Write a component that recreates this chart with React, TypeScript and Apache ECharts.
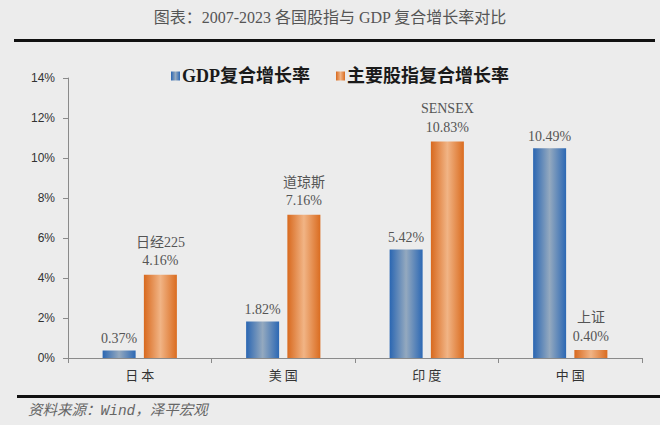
import React, { useEffect, useRef } from "react";
import * as echarts from "echarts";

const categories = ["日本", "美国", "印度", "中国"];
const gdpGrowth = [0.37, 1.82, 5.42, 10.49];
const indexGrowth = [4.16, 7.16, 10.83, 0.4];
const indexNames = ["日经225", "道琼斯", "SENSEX", "上证"];
const yTicks = [0, 2, 4, 6, 8, 10, 12, 14];

const blueGrad = () =>
  new echarts.graphic.LinearGradient(0, 0, 1, 0, [
    { offset: 0, color: "#2a66b2" },
    { offset: 0.5, color: "#94a9bf" },
    { offset: 1, color: "#2c68b4" },
  ]);
const orangeGrad = () =>
  new echarts.graphic.LinearGradient(0, 0, 1, 0, [
    { offset: 0, color: "#d8691e" },
    { offset: 0.5, color: "#f1b485" },
    { offset: 1, color: "#da6c20" },
  ]);

export default function App() {
  const ref = useRef<HTMLDivElement>(null);
  useEffect(() => {
    if (!ref.current) return;
    const chart = echarts.init(ref.current, null, { renderer: "svg" });
    const serif = "'Liberation Serif', 'Times New Roman', 'Noto Sans CJK SC', serif";
    chart.setOption({
      animation: false,
      backgroundColor: "#ececec",
      title: {
        text: "图表：2007-2023 各国股指与 GDP 复合增长率对比",
        left: "center",
        top: 4,
        textStyle: {
          fontFamily: "'Liberation Serif', 'Noto Sans CJK SC', serif",
          fontWeight: "normal",
          fontSize: 16,
          color: "#555555",
        },
      },
      legend: {
        top: 62,
        left: 166,
        itemWidth: 9,
        itemHeight: 9,
        itemGap: 26,
        icon: "rect",
        textStyle: {
          fontFamily: serif,
          fontWeight: "bold",
          fontSize: 18,
          color: "#1a1a1a",
          padding: [0, 0, 0, -3],
        },
        data: [
          { name: "GDP复合增长率", itemStyle: { color: blueGrad() } },
          { name: "主要股指复合增长率", itemStyle: { color: orangeGrad() } },
        ],
      },
      grid: { left: 68, right: 18, top: 78, bottom: 67, containLabel: false },
      xAxis: {
        type: "category",
        data: categories,
        axisLine: { lineStyle: { color: "#8a8a8a", width: 1 } },
        axisTick: { show: true, length: 5, inside: false, lineStyle: { color: "#8a8a8a" } },
        axisLabel: {
          fontFamily: "'Noto Sans CJK SC', sans-serif",
          fontSize: 13,
          color: "#333333",
          margin: 10,
          formatter: (v: string) => v.split("").join(" "),
        },
      },
      yAxis: {
        type: "value",
        min: 0,
        max: 14,
        interval: 2,
        splitLine: { show: false },
        axisLine: { show: true, lineStyle: { color: "#8a8a8a", width: 1 } },
        axisTick: { show: true, length: 5, lineStyle: { color: "#8a8a8a" } },
        axisLabel: {
          fontFamily: "'Liberation Sans', Arial, sans-serif",
          fontSize: 12,
          color: "#333333",
          margin: 13,
          formatter: (v: number) => (yTicks.includes(v) ? `${v}%` : ""),
        },
      },
      series: [
        {
          name: "GDP复合增长率",
          type: "bar",
          data: gdpGrowth,
          barWidth: "23%",
          barGap: "25%",
          itemStyle: { color: blueGrad() },
          label: {
            show: true,
            position: "top",
            distance: 5,
            fontFamily: serif,
            fontSize: 14,
            color: "#555555",
            formatter: (p: any) => `${p.value.toFixed(2)}%`,
          },
        },
        {
          name: "主要股指复合增长率",
          type: "bar",
          data: indexGrowth,
          barWidth: "23%",
          itemStyle: { color: orangeGrad() },
          label: {
            show: true,
            position: "top",
            distance: 5,
            fontFamily: serif,
            formatter: (p: any) =>
              `{n|${indexNames[p.dataIndex]}}\n{v|${p.value.toFixed(2)}%}`,
            rich: {
              n: {
                fontFamily: serif,
                fontSize: 14,
                color: "#555555",
                lineHeight: 19,
              },
              v: {
                fontFamily: serif,
                fontSize: 14,
                color: "#555555",
                lineHeight: 18,
              },
            },
          },
        },
      ],
      graphic: [
        {
          type: "rect",
          shape: { x: 14, y: 39, width: 641, height: 3 },
          style: { fill: "#111111" },
        },
        {
          type: "rect",
          shape: { x: 17, y: 395, width: 643, height: 3 },
          style: { fill: "#111111" },
        },
        {
          type: "text",
          x: 28,
          y: 404,
          style: {
            text: "资料来源：Wind，泽平宏观",
            font: "italic 14.5px 'Liberation Mono', 'Noto Sans CJK SC', monospace",
            fill: "#666666",
          },
        },
      ],
    });
    return () => chart.dispose();
  }, []);
  return (
    <div
      ref={ref}
      style={{ position: "fixed", left: 0, top: 0, width: 660, height: 425 }}
    />
  );
}
